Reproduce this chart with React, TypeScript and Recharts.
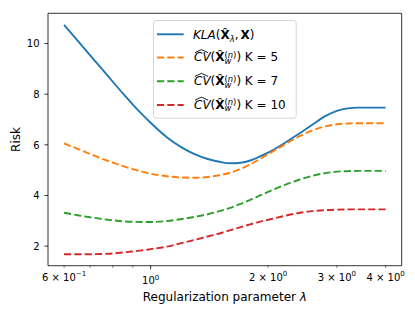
import React from 'react';
import { LineChart, Line, XAxis, YAxis, Legend, Label, ReferenceLine } from 'recharts';

const FONT = "'DejaVu Sans', sans-serif";

const lambdas = [0.6, 0.65, 0.7, 0.75, 0.8, 0.85, 0.9, 0.95, 1.0, 1.1, 1.2, 1.3, 1.4, 1.5, 1.6, 1.7, 1.8, 1.9, 2.0, 2.2, 2.4, 2.6, 2.8, 3.0, 3.2, 3.4, 3.6, 3.8, 4.0];
const klaRisk = [10.74, 10.11, 9.53, 9.0, 8.49, 8.02, 7.59, 7.21, 6.87, 6.3, 5.9, 5.62, 5.44, 5.33, 5.27, 5.29, 5.38, 5.53, 5.69, 6.06, 6.44, 6.8, 7.13, 7.34, 7.44, 7.47, 7.47, 7.47, 7.47];
const cvK5 = [6.06, 5.84, 5.64, 5.45, 5.3, 5.16, 5.04, 4.94, 4.86, 4.76, 4.71, 4.7, 4.73, 4.8, 4.9, 5.05, 5.23, 5.43, 5.63, 6.0, 6.33, 6.57, 6.73, 6.81, 6.84, 6.85, 6.85, 6.85, 6.85];
const cvK7 = [3.32, 3.22, 3.14, 3.07, 3.02, 2.98, 2.96, 2.95, 2.95, 2.99, 3.07, 3.16, 3.26, 3.38, 3.51, 3.67, 3.83, 3.99, 4.14, 4.41, 4.62, 4.78, 4.88, 4.94, 4.96, 4.97, 4.97, 4.97, 4.97];
const cvK10 = [1.68, 1.68, 1.68, 1.69, 1.71, 1.75, 1.79, 1.83, 1.88, 1.98, 2.12, 2.25, 2.38, 2.5, 2.63, 2.75, 2.86, 2.96, 3.04, 3.19, 3.31, 3.38, 3.42, 3.44, 3.45, 3.45, 3.45, 3.45, 3.45];

const xTicks = [0.6, 0.7, 0.8, 0.9, 1, 2, 3, 4];
const xMajorTicks = [1];
const xTickLabels: Record<string, [string, string]> = {
  '0.6': ['6 × 10', '−1'],
  '1': ['10', '0'],
  '2': ['2 × 10', '0'],
  '3': ['3 × 10', '0'],
  '4': ['4 × 10', '0'],
};
const yTicks = [2, 4, 6, 8, 10];
const kValues = [5, 7, 10];
const xDomain = [0.5458, 4.398];
const yDomain = [1.227, 11.193];

const COLORS = { kla: '#1f77b4', k5: '#ff7f0e', k7: '#2ca02c', k10: '#d62728' };
const DASH = '7.2 3.1';
const LW = 1.9;

const data = lambdas.map((l, i) => ({ lambda: l, kla: klaRisk[i], k5: cvK5[i], k7: cvK7[i], k10: cvK10[i] }));

const XTick = (props: any) => {
  const { x, y, payload } = props;
  const v = payload.value;
  const major = xMajorTicks.includes(v);
  const len = major ? 3.5 : 2;
  const lbl = xTickLabels[String(v)];
  return (
    <g>
      <line x1={x} x2={x} y1={y} y2={y + len} stroke="#000" strokeWidth={major ? 0.8 : 0.6} />
      {lbl && (
        <text x={x} y={y + (major ? 18.3 : 14.8)} textAnchor="middle" fontSize={10} fontFamily={FONT} fill="#000">
          {lbl[0]}
          <tspan dy={-4.5} fontSize={7}>{lbl[1]}</tspan>
        </text>
      )}
    </g>
  );
};

const YTick = (props: any) => {
  const { x, y, payload } = props;
  return (
    <g>
      <line x1={x - 3.5} x2={x} y1={y} y2={y} stroke="#000" strokeWidth={0.8} />
      <text x={x - 8.5} y={y + 3.8} textAnchor="end" fontSize={10} fontFamily={FONT} fill="#000">
        {payload.value}
      </text>
    </g>
  );
};

const XLabel = (props: any) => {
  const vb = props.viewBox || { x: 48, width: 353.7 };
  const cx = vb.x + vb.width / 2;
  return (
    <text x={cx} y={300.7} textAnchor="middle" fontSize={12} fontFamily={FONT} fill="#000" style={{ whiteSpace: 'pre' }}>
      Regularization parameter <tspan fontStyle="italic">λ</tspan>
    </text>
  );
};

const YLabel = (props: any) => {
  const vb = props.viewBox || { y: 13.3, height: 252.4 };
  const cy = vb.y + vb.height / 2;
  const bx = 20;
  return (
    <text x={bx} y={cy} transform={`rotate(-90, ${bx}, ${cy})`} textAnchor="middle" fontSize={12} fontFamily={FONT} fill="#000">
      Risk
    </text>
  );
};

const legendRows = [
  { key: 'kla', lineY: 14.3 },
  { key: 'k5', lineY: 37.5, k: kValues[0] },
  { key: 'k7', lineY: 61.2, k: kValues[1] },
  { key: 'k10', lineY: 85, k: kValues[2] },
];

const LegendContent = () => (
  <svg width={144} height={99} style={{ display: 'block' }}>
    <rect x={0.5} y={0.5} width={142.7} height={97.7} rx={2.5} fill="#fff" fillOpacity={0.8} stroke="#cccccc" strokeWidth={0.8} />
    {legendRows.map((r) => {
      const color = (COLORS as any)[r.key];
      if (r.key === 'kla') {
        const b = r.lineY + 5;
        return (
          <g key={r.key}>
            <line x1={4} x2={30.7} y1={r.lineY} y2={r.lineY} stroke={color} strokeWidth={LW} />
            <text x={40} y={b} fontSize={12} fontFamily={FONT} fill="#000" style={{ whiteSpace: 'pre' }}>
              <tspan fontStyle="italic">KLA</tspan>
              <tspan>(</tspan>
              <tspan fontWeight="bold">{'X\u0302'}</tspan>
              <tspan fontSize={8.4} fontStyle="italic" dy={2.6}>λ</tspan>
              <tspan dy={-2.6}>,</tspan>
              <tspan dx={2} fontWeight="bold">X</tspan>
              <tspan>)</tspan>
            </text>
          </g>
        );
      }
      const b = r.lineY + 3.8;
      const x0 = 41;
      return (
        <g key={r.key}>
          <line x1={4} x2={30.7} y1={r.lineY} y2={r.lineY} stroke={color} strokeWidth={LW} strokeDasharray={DASH} />
          <path d={`M ${x0 + 1} ${b - 8.6} Q ${x0 + 4} ${b - 10.2} ${x0 + 7.5} ${b - 11.6} Q ${x0 + 11} ${b - 10.2} ${x0 + 14} ${b - 8.6}`} fill="none" stroke="#000" strokeWidth={0.9} />
          <text x={x0} y={b} fontSize={12} fontFamily={FONT} fill="#000" style={{ whiteSpace: 'pre' }}>
            <tspan fontStyle="italic">CV</tspan>
            <tspan>(</tspan>
            <tspan fontWeight="bold">{'X\u0302'}</tspan>
            <tspan fontSize={8.4} fontStyle="italic" dy={2.6}>w</tspan>
            <tspan fontSize={8.4} dx={-6.9} dy={-6}>(</tspan>
            <tspan fontSize={8.4} fontStyle="italic">n</tspan>
            <tspan fontSize={8.4}>)</tspan>
            <tspan dy={3.4}>{`) K = ${r.k}`}</tspan>
          </text>
        </g>
      );
    })}
  </svg>
);

export default function App() {
  return (
    <div style={{ position: 'absolute', left: 0, top: 0, width: 415, height: 315, background: '#fff' }}>
      <LineChart width={415} height={315} data={data} margin={{ top: 13.3, right: 13.3, bottom: 0, left: 0 }}>
        <XAxis
          dataKey="lambda"
          type="number"
          scale="log"
          domain={xDomain}
          allowDataOverflow
          ticks={xTicks}
          interval={0}
          height={49.3}
          tickSize={0}
          tickMargin={0}
          tickLine={false}
          axisLine={{ stroke: '#000', strokeWidth: 0.8 }}
          tick={<XTick />}
          label={<Label content={<XLabel />} />}
        />
        <YAxis
          type="number"
          domain={yDomain}
          allowDataOverflow
          ticks={yTicks}
          interval={0}
          width={48}
          tickSize={0}
          tickMargin={0}
          tickLine={false}
          axisLine={{ stroke: '#000', strokeWidth: 0.8 }}
          tick={<YTick />}
          label={<Label content={<YLabel />} />}
        />
        <ReferenceLine x={xDomain[1]} stroke="#000" strokeWidth={0.8} ifOverflow="visible" />
        <ReferenceLine y={yDomain[1]} stroke="#000" strokeWidth={0.8} ifOverflow="visible" />
        <Line dataKey="kla" type="monotone" stroke={COLORS.kla} strokeWidth={LW} dot={false} activeDot={false} isAnimationActive={false} />
        <Line dataKey="k5" type="monotone" stroke={COLORS.k5} strokeWidth={LW} strokeDasharray={DASH} dot={false} activeDot={false} isAnimationActive={false} />
        <Line dataKey="k7" type="monotone" stroke={COLORS.k7} strokeWidth={LW} strokeDasharray={DASH} dot={false} activeDot={false} isAnimationActive={false} />
        <Line dataKey="k10" type="monotone" stroke={COLORS.k10} strokeWidth={LW} strokeDasharray={DASH} dot={false} activeDot={false} isAnimationActive={false} />
        <Legend
          layout="vertical"
          align="center"
          verticalAlign="middle"
          wrapperStyle={{ left: 153, top: 20, width: 144, height: 99 }}
          content={<LegendContent />}
        />
      </LineChart>
    </div>
  );
}
